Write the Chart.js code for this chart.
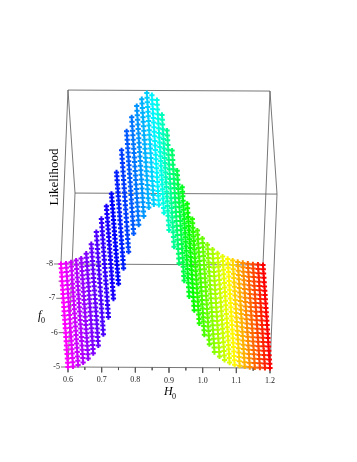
<!DOCTYPE html>
<html>
<head>
<meta charset="utf-8">
<style>
  html, body { margin: 0; padding: 0; background: #fff; }
  canvas { display: block; }
</style>
<script src="https://cdn.jsdelivr.net/npm/chart.js@4"></script>
</head>
<body>
<canvas id="myChart" width="357" height="462"></canvas>
<script>
// axis values
const h0Ticks = [0.6, 0.7, 0.8, 0.9, 1.0, 1.1, 1.2];
const h0TickLabels = ['0.6', '0.7', '0.8', '0.9', '1.0', '1.1', '1.2'];
const h0MinorTicks = [0.65, 0.75, 0.85, 0.95, 1.05, 1.15];
const f0Ticks = [-8, -7, -6, -5];
const f0TickLabels = ['-8', '-7', '-6', '-5'];
const f0MinorTicks = [-7.5, -6.5, -5.5];

// grid of the surface
const h0Values = [0.6, 0.615, 0.63, 0.645, 0.66, 0.675, 0.69, 0.705, 0.72, 0.735, 0.75, 0.765, 0.78, 0.795, 0.81, 0.825, 0.84, 0.855, 0.87, 0.885, 0.9, 0.915, 0.93, 0.945, 0.96, 0.975, 0.99, 1.005, 1.02, 1.035, 1.05, 1.065, 1.08, 1.095, 1.11, 1.125, 1.14, 1.155, 1.17, 1.185, 1.2];
const f0Values = [-5, -5.125, -5.25, -5.375, -5.5, -5.625, -5.75, -5.875, -6, -6.125, -6.25, -6.375, -6.5, -6.625, -6.75, -6.875, -7, -7.125, -7.25, -7.375, -7.5, -7.625, -7.75, -7.875, -8];

// likelihood (thousandths of the box height), one line per H0.
// front and back rows come from the outline, the rows between them are rough estimates
const likelihood = [
  [0,0,0,0,0,0,0,0,0,0,0,0,0,0,0,0,0,0,0,0,0,0,0,0,0],
  [3,3,3,3,3,3,3,3,3,3,3,3,3,3,3,3,3,3,3,3,3,3,3,3,3],
  [12,12,12,12,12,12,12,12,11,11,11,11,11,11,11,11,11,10,10,10,10,10,10,10,10],
  [27,27,26,26,26,26,25,25,25,24,24,24,24,23,23,23,22,22,22,22,21,21,21,20,20],
  [50,49,49,48,47,46,46,45,44,43,43,42,41,40,40,39,38,37,37,36,35,34,34,33,32],
  [80,79,78,78,77,76,75,74,73,73,72,71,70,69,68,68,67,66,65,64,63,63,62,61,60],
  [125,125,124,124,123,123,122,122,122,121,121,120,120,120,119,119,118,118,117,117,117,116,116,115,115],
  [190,190,190,189,189,189,189,189,188,188,188,188,188,187,187,187,187,186,186,186,186,186,185,185,185],
  [288,287,286,284,283,282,281,280,279,277,276,275,274,273,272,270,269,268,267,266,265,263,262,261,260],
  [395,392,390,387,385,382,380,377,374,372,369,367,364,361,359,356,354,351,349,346,343,341,338,336,333],
  [480,477,474,471,468,464,461,458,455,452,449,446,443,439,436,433,430,427,424,421,418,414,411,408,405],
  [570,568,567,565,563,561,560,558,556,554,553,551,549,547,546,544,542,540,539,537,535,533,532,530,528],
  [665,665,664,664,663,663,662,662,662,661,661,660,660,660,659,659,658,658,657,657,657,656,656,655,655],
  [770,770,770,769,769,769,769,769,768,768,768,768,768,767,767,767,767,766,766,766,766,766,765,765,765],
  [820,821,822,823,824,825,826,827,828,829,830,831,833,834,835,836,837,838,839,840,841,842,843,844,845],
  [870,872,873,875,877,878,880,882,883,885,887,888,890,892,893,895,897,898,900,902,903,905,907,908,910],
  [920,921,923,924,925,926,928,929,930,931,933,934,935,936,938,939,940,941,943,944,945,946,948,949,950],
  [938,940,942,944,946,948,950,952,954,956,958,960,962,963,965,967,969,971,973,975,977,979,981,983,985],
  [935,937,938,940,941,943,945,946,948,949,951,952,954,956,957,959,960,962,964,965,967,968,970,971,973],
  [890,892,895,897,899,901,904,906,908,910,913,915,918,920,922,924,927,929,931,934,936,938,940,943,945],
  [790,793,796,799,802,805,808,810,813,816,819,822,825,828,831,834,837,840,843,845,848,851,854,857,860],
  [695,698,701,704,708,711,714,717,720,723,726,729,733,736,739,742,745,748,751,754,758,761,764,767,770],
  [600,602,605,607,609,611,614,616,618,620,623,625,628,630,632,634,637,639,641,644,646,648,650,653,655],
  [500,502,503,505,507,508,510,512,513,515,517,518,520,522,523,525,527,528,530,532,533,535,537,538,540],
  [410,411,413,414,416,417,419,420,422,423,425,426,428,429,430,432,433,435,436,438,439,441,442,444,445],
  [330,331,332,332,333,334,335,336,337,338,338,339,340,341,342,343,343,344,345,346,347,348,348,349,350],
  [255,255,256,256,256,256,257,257,257,258,258,258,258,259,259,259,260,260,260,260,261,261,261,262,262],
  [190,190,191,191,191,191,192,192,192,192,193,193,193,193,194,194,194,194,195,195,195,195,196,196,196],
  [135,136,136,137,138,138,139,139,140,141,141,142,143,143,144,144,145,146,146,147,148,148,149,149,150],
  [90,91,92,93,94,95,96,97,98,99,100,101,103,104,105,106,107,108,109,110,111,112,113,114,115],
  [65,66,67,68,69,70,71,71,72,73,74,75,76,77,78,79,80,81,82,82,83,84,85,86,87],
  [45,46,47,47,48,49,50,51,52,53,53,54,55,56,57,58,58,59,60,61,62,63,63,64,65],
  [30,31,31,32,33,34,34,35,36,36,37,38,39,39,40,41,41,42,43,44,44,45,46,46,47],
  [18,19,19,20,21,21,22,23,23,24,25,25,26,27,27,28,29,29,30,31,31,32,33,33,34],
  [12,13,13,14,14,15,15,16,16,17,17,18,19,19,20,20,21,21,22,22,23,23,24,24,25],
  [8,8,9,9,10,10,10,11,11,11,12,12,13,13,13,14,14,14,15,15,16,16,16,17,17],
  [5,5,6,6,6,6,7,7,7,7,8,8,8,8,8,9,9,9,9,10,10,10,10,11,11],
  [3,3,3,4,4,4,4,4,4,5,5,5,5,5,5,5,6,6,6,6,6,6,7,7,7],
  [2,2,2,2,2,2,3,3,3,3,3,3,3,3,3,3,3,3,4,4,4,4,4,4,4],
  [1,1,1,1,1,1,1,1,1,1,1,1,2,2,2,2,2,2,2,2,2,2,2,2,2],
  [0,0,0,0,0,0,0,0,0,0,0,0,0,0,0,0,0,0,0,0,0,0,0,0,0]
];

// colour stops along H0
const hueH0 = [0.6, 0.75, 0.858, 0.972, 1.092, 1.2];
const hueDeg = [300, 240, 190, 120, 60, 0];

// box projection: H0, f0 and likelihood onto the flat plane of the chart.
// the box leans with height, the points of the surface do not
function project(h0, f0, l, lean) {
  const u = (h0 - 0.6) / 0.6;
  const v = (f0 + 5) / -3;
  const w = l / 1000;
  return {
    x: u - 0.0347 * v + lean * w,
    y: -0.005 * u + 0.51 * v + 0.861 * w
  };
}

function lineDataset(points, width, color) {
  return {
    data: points,
    showLine: true,
    borderColor: color,
    borderWidth: width,
    pointRadius: 0,
    order: 100
  };
}

function hueOf(h0) {
  let i = 0;
  while (i < hueH0.length - 2 && h0 > hueH0[i + 1]) i++;
  const t = (h0 - hueH0[i]) / (hueH0[i + 1] - hueH0[i]);
  return hueDeg[i] + t * (hueDeg[i + 1] - hueDeg[i]);
}

// 12 edges of the box
const LEAN = 0.0347;
const datasets = [];
[[0.6, -5], [1.2, -5], [0.6, -8], [1.2, -8]].forEach(c => {
  datasets.push(lineDataset([project(c[0], c[1], 0, LEAN), project(c[0], c[1], 1000, LEAN)], 0.8, '#555'));
});
[0, 1000].forEach(l => {
  datasets.push(lineDataset([project(0.6, -5, l, LEAN), project(1.2, -5, l, LEAN)], 0.8, '#555'));
  datasets.push(lineDataset([project(0.6, -8, l, LEAN), project(1.2, -8, l, LEAN)], 0.8, '#555'));
  datasets.push(lineDataset([project(0.6, -5, l, LEAN), project(0.6, -8, l, LEAN)], 0.8, '#555'));
  datasets.push(lineDataset([project(1.2, -5, l, LEAN), project(1.2, -8, l, LEAN)], 0.8, '#555'));
});

// tick marks
const offset = (p, dx, dy) => ({ x: p.x + dx, y: p.y + dy });
h0Ticks.forEach(h => {
  const p = project(h, -5, 0, LEAN);
  datasets.push(lineDataset([p, offset(p, 0, -0.026)], 0.8, '#555'));
});
h0MinorTicks.forEach(h => {
  const p = project(h, -5, 0, LEAN);
  datasets.push(lineDataset([p, offset(p, 0, -0.014)], 0.8, '#555'));
});
f0Ticks.forEach(f => {
  const p = project(0.6, f, 0, LEAN);
  datasets.push(lineDataset([p, offset(p, -0.035, 0)], 0.8, '#555'));
});
f0MinorTicks.forEach(f => {
  const p = project(0.6, f, 0, LEAN);
  datasets.push(lineDataset([p, offset(p, -0.018, 0)], 0.8, '#555'));
});

// one scatter series per H0 column, the colour runs through the rainbow with H0
h0Values.forEach((h, i) => {
  datasets.push({
    data: f0Values.map((f, j) => project(h, f, likelihood[i][j], 0)).reverse(),
    pointStyle: 'cross',
    pointRadius: 2.6,
    borderColor: `hsl(${hueOf(h)}, 100%, 50%)`,
    backgroundColor: `hsl(${hueOf(h)}, 100%, 50%)`,
    pointBorderWidth: 2,
    order: h0Values.length - i
  });
});

const labelPlugin = {
  id: 'boxLabels',
  afterDraw(chart) {
    const ctx = chart.ctx;
    const sx = chart.scales.x;
    const sy = chart.scales.y;
    const px = p => ({ x: sx.getPixelForValue(p.x), y: sy.getPixelForValue(p.y) });
    ctx.save();
    ctx.fillStyle = '#222';
    ctx.font = '8px "Liberation Serif"';
    ctx.textAlign = 'center';
    ctx.textBaseline = 'middle';
    h0Ticks.forEach((h, i) => {
      const p = px(project(h, -5, 0, LEAN));
      ctx.fillText(h0TickLabels[i], p.x, p.y + 13);
    });
    ctx.textAlign = 'right';
    f0Ticks.forEach((f, i) => {
      const p = px(project(0.6, f, 0, LEAN));
      ctx.fillText(f0TickLabels[i], p.x - 8, p.y);
    });

    ctx.fillStyle = '#000';
    ctx.textAlign = 'left';
    ctx.textBaseline = 'alphabetic';
    ctx.font = 'italic 12px "Liberation Serif"';
    ctx.fillText('H', 164, 395);
    ctx.fillText('f', 38, 319);
    ctx.font = '8px "Liberation Serif"';
    ctx.fillText('0', 172, 399);
    ctx.fillText('0', 41, 323);

    ctx.translate(58, 177);
    ctx.rotate(-Math.PI / 2);
    ctx.font = '13px "Liberation Serif"';
    ctx.textAlign = 'center';
    ctx.fillText('Likelihood', 0, 0);
    ctx.restore();
  }
};

new Chart(document.getElementById('myChart').getContext('2d'), {
  type: 'scatter',
  data: { datasets: datasets },
  options: {
    responsive: false,
    animation: false,
    layout: { padding: 0, autoPadding: false },
    plugins: { legend: { display: false }, tooltip: { enabled: false } },
    scales: {
      x: { type: 'linear', display: false, min: -0.3366, max: 1.4307 },
      y: { type: 'linear', display: false, min: -0.4703, max: 1.8168 }
    }
  },
  plugins: [labelPlugin]
});
</script>
</body>
</html>
